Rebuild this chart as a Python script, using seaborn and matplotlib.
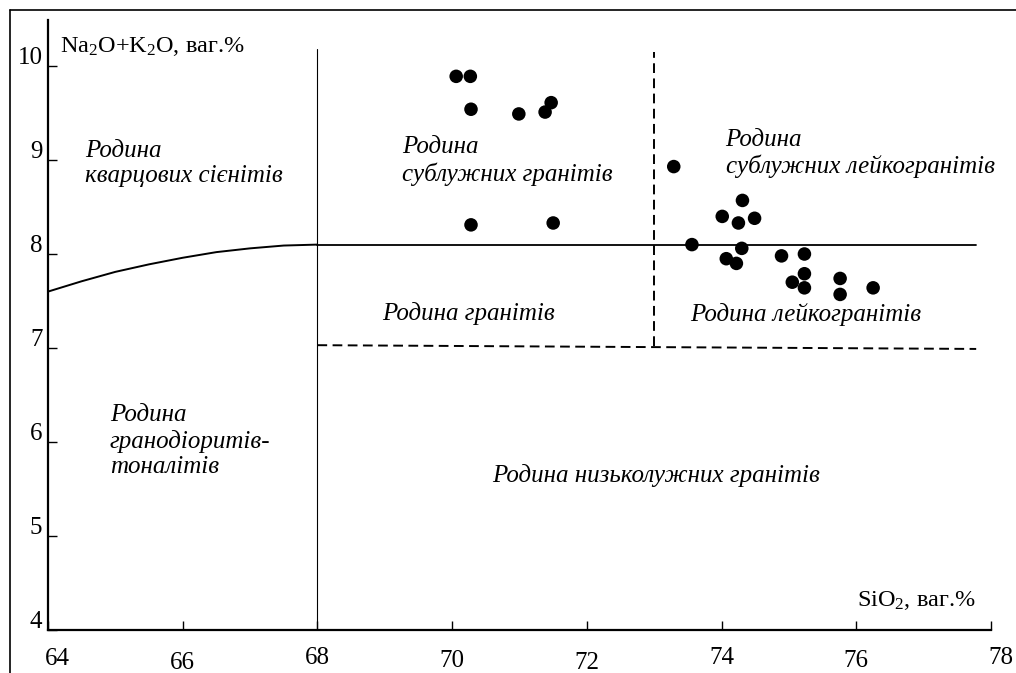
import matplotlib
matplotlib.use("Agg")
import matplotlib.pyplot as plt
import matplotlib.transforms as mtransforms
from matplotlib.lines import Line2D
import pandas as pd
import seaborn as sns

# ---------------- data ----------------
silica = [70.06, 70.27, 70.28, 70.99, 71.47, 71.38, 70.28, 71.50,
          73.29, 74.31, 74.01, 74.49, 74.25, 73.56, 74.30, 74.07, 74.22,
          74.89, 75.23, 75.23, 75.05, 75.23, 75.76, 75.76, 76.25]
alkali = [9.89, 9.89, 9.54, 9.49, 9.61, 9.51, 8.31, 8.33,
          8.93, 8.57, 8.40, 8.38, 8.33, 8.10, 8.06, 7.95, 7.90,
          7.98, 8.00, 7.79, 7.70, 7.64, 7.74, 7.57, 7.64]

# boundary: syenite / granodiorite curve
curve_x = [64.0, 64.5, 65.0, 65.5, 66.0, 66.5, 67.0, 67.5, 68.0]
curve_y = [7.60, 7.71, 7.81, 7.89, 7.96, 8.02, 8.06, 8.09, 8.10]
# solid horizontal boundary
solid_h_x = [68.0, 77.78]
solid_h_y = [8.10, 8.10]
# solid vertical boundary
solid_v_x = [68.0, 68.0]
solid_v_y = [4.0, 10.18]
# dashed vertical boundary
dash_v_x = [73.0, 73.0]
dash_v_y = [7.02, 10.15]
# dashed horizontal boundary
dash_h_x = [68.0, 77.78]
dash_h_y = [7.03, 6.99]

x_ticks = [64, 66, 68, 70, 72, 74, 76, 78]
x_tick_labels = ["64", "66", "68", "70", "72", "74", "76", "78"]
y_ticks = [4, 5, 6, 7, 8, 9, 10]
y_tick_labels = ["4", "5", "6", "7", "8", "9", "10"]

region_names = [
    "Родина\nкварцових сієнітів",
    "Родина\nсублужних гранітів",
    "Родина\nсублужних лейкогранітів",
    "Родина гранітів",
    "Родина лейкогранітів",
    "Родина\nгранодіоритів-\nтоналітів",
    "Родина низьколужних гранітів",
]
region_pos = [(64.55, 8.96), (69.26, 8.99), (74.06, 9.07), (68.96, 7.37),
              (73.54, 7.36), (64.92, 6.01), (70.59, 5.64)]

x_label = "SiO$_2$, ваг.%"
y_label = "Na$_2$O+K$_2$O, ваг.%"

# ---------------- style ----------------
sns.set_theme(style="white")
plt.rcParams["font.family"] = ["Liberation Serif", "DejaVu Serif"]
plt.rcParams["mathtext.fontset"] = "custom"
plt.rcParams["mathtext.rm"] = "Liberation Serif"
plt.rcParams["mathtext.it"] = "Liberation Serif:italic"

W, H = 1016, 673
fig = plt.figure(figsize=(W / 100, H / 100), dpi=100)
fig.patch.set_facecolor("white")
ax = fig.add_axes([48 / W, 43 / H, 943 / W, 610 / H])
ax.set_facecolor("white")

df = pd.DataFrame({"SiO2": silica, "alk": alkali})

# boundaries
ax.plot(curve_x, curve_y, color="black", lw=1.4, solid_capstyle="butt")
ax.plot(solid_h_x, solid_h_y, color="black", lw=1.3)
ax.plot(solid_v_x, solid_v_y, color="black", lw=0.8)
ax.plot(dash_v_x, dash_v_y, color="black", lw=1.4, dashes=(5, 2.8))
ax.plot(dash_h_x, dash_h_y, color="black", lw=1.4, dashes=(5, 2.8))

sns.scatterplot(data=df, x="SiO2", y="alk", color="black", s=95,
                edgecolor="none", ax=ax, legend=False, zorder=5)

ax.set_xlim(64, 78)
ax.set_ylim(4, 4 + 610 / 94)
ax.set_xlabel("")
ax.set_ylabel("")

for side in ["top", "right"]:
    ax.spines[side].set_visible(False)
for side in ["left", "bottom"]:
    ax.spines[side].set_linewidth(1.6)
    ax.spines[side].set_color("black")

ax.set_xticks(x_ticks)
ax.set_xticklabels(x_tick_labels)
ax.set_yticks(y_ticks)
ax.set_yticklabels(y_tick_labels)
ax.tick_params(axis="both", which="major", direction="in", length=6.5, width=1.0,
               color="black", labelcolor="black", labelsize=18,
               bottom=True, left=True, top=False, right=False)
ax.tick_params(axis="x", pad=12)
ax.tick_params(axis="y", pad=4)

x_offsets = [(9, -1), (0, -5), (0, 0), (0, -3), (0, -5), (0, 0), (0, -3), (10, 0)]
for lbl, (dx, dy) in zip(ax.get_xticklabels(), x_offsets):
    lbl.set_transform(lbl.get_transform() +
                      mtransforms.ScaledTranslation(dx / 100, dy / 100, fig.dpi_scale_trans))
for lbl in ax.get_yticklabels():
    lbl.set_transform(lbl.get_transform() +
                      mtransforms.ScaledTranslation(0, 10 / 100, fig.dpi_scale_trans))

# axis titles
ax.text(64.18, 10.21, y_label, fontsize=17.5, ha="left", va="center", color="black")
ax.text(77.78, 4.31, x_label, fontsize=17.5, ha="right", va="center", color="black")

# region labels
for name, (px, py) in zip(region_names, region_pos):
    ax.text(px, py, name, fontsize=18, style="italic", ha="left", va="center",
            linespacing=1.2, color="black")

# outer frame (only left and top visible in the reference)
fig.add_artist(Line2D([10 / W, 10 / W], [0, 1 - 10 / H], transform=fig.transFigure,
                      color="black", lw=1.2))
fig.add_artist(Line2D([10 / W, 1], [1 - 10 / H, 1 - 10 / H], transform=fig.transFigure,
                      color="black", lw=1.2))

fig.savefig("out.png", dpi=100)
